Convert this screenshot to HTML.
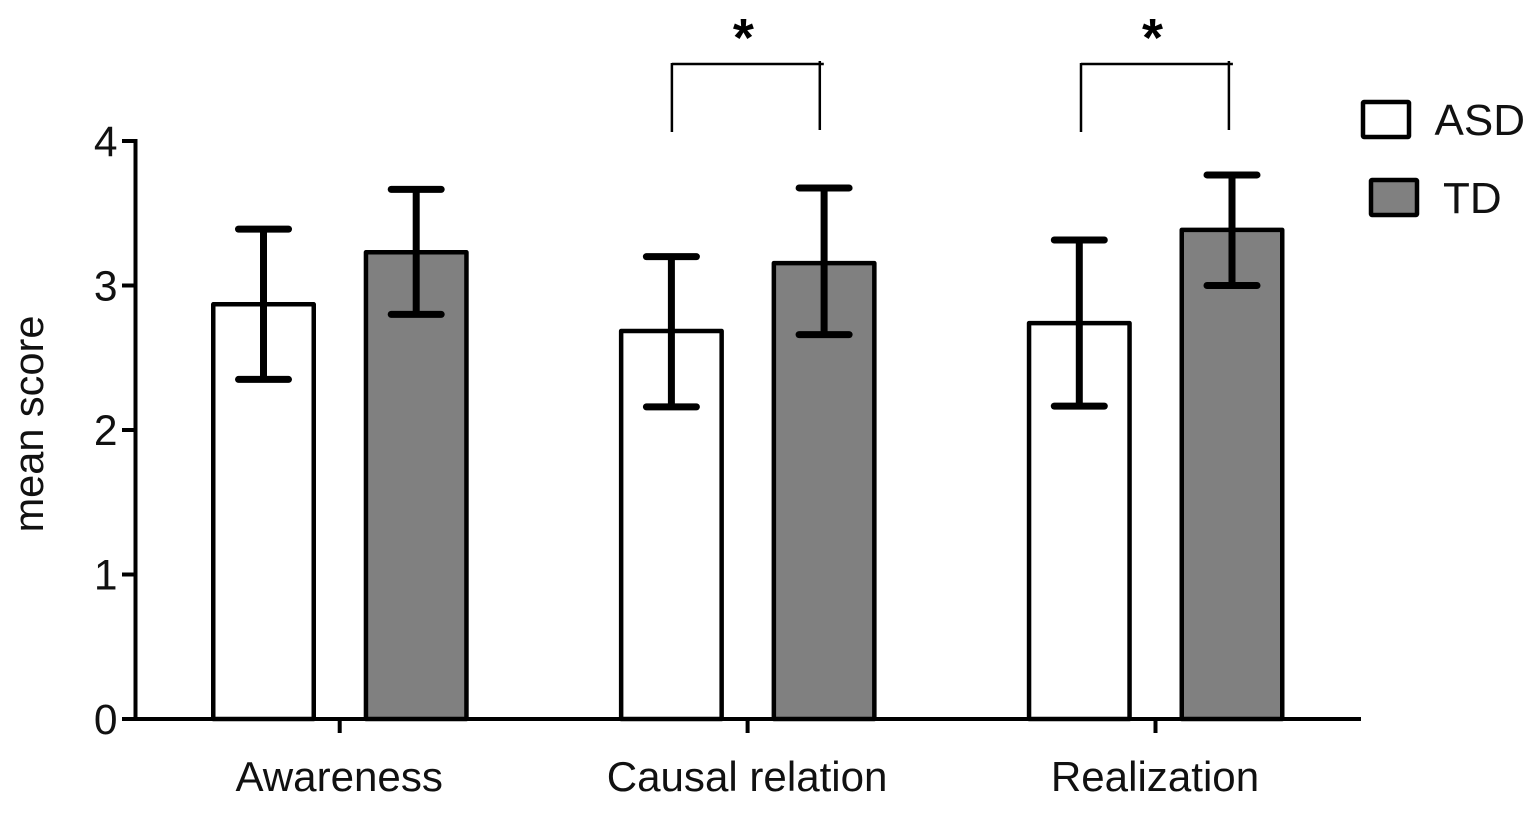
<!DOCTYPE html>
<html lang="en">
<head>
<meta charset="utf-8">
<title>Mean score by group</title>
<style>
html,body{margin:0;padding:0;background:#fff;}
svg{display:block;font-family:"Liberation Sans",Arial,sans-serif;fill:#111;}
</style>
</head>
<body>
<svg id="chart" width="1535" height="815" viewBox="0 0 1535 815" xmlns="http://www.w3.org/2000/svg"></svg>
<script>
const categories = ["Awareness", "Causal relation", "Realization"];
const seriesNames = ["ASD", "TD"];
const asdValues = [2.87, 2.685, 2.74];
const tdValues = [3.23, 3.155, 3.385];
const asdErrorHigh = [3.39, 3.20, 3.315];
const asdErrorLow = [2.35, 2.16, 2.165];
const tdErrorHigh = [3.665, 3.675, 3.765];
const tdErrorLow = [2.80, 2.66, 3.00];
const yTicks = [0, 1, 2, 3, 4];
const significantCategories = ["Causal relation", "Realization"];

const svg = document.getElementById('chart');
const NS = 'http://www.w3.org/2000/svg';
function yScale(v){ return 719 - v * 144.5; }
function xCenter(i){ return 339.7 + i * 407.9; }
function xBar(i, s){ return xCenter(i) + (s === 0 ? -76.2 : 76.5); }
function add(tag, attrs, parent){
  const el = document.createElementNS(NS, tag);
  for (const k in attrs) el.setAttribute(k, attrs[k]);
  (parent || svg).appendChild(el);
  return el;
}
function stroke(w, cap){ return {stroke:'#000','stroke-width':w,'stroke-linecap':cap || 'butt',fill:'none'}; }

const series = [
  {name:seriesNames[0], values:asdValues, hi:asdErrorHigh, lo:asdErrorLow, fill:'#ffffff'},
  {name:seriesNames[1], values:tdValues, hi:tdErrorHigh, lo:tdErrorLow, fill:'#808080'}
];
const barWidth = 100.5;

series.forEach((s, si) => {
  s.values.forEach((v, i) => {
    const cx = xBar(i, si);
    const bar = add('rect', {x:cx - barWidth / 2, y:yScale(v), width:barWidth, height:yScale(0) - yScale(v), fill:s.fill, stroke:'#000', 'stroke-width':4.5, 'stroke-linejoin':'round'});
    
    
    const err = add('g', stroke(7, 'butt'));
    
    
    add('line', {x1:cx, x2:cx, y1:yScale(s.hi[i]), y2:yScale(s.lo[i])}, err);
    add('line', {x1:cx - 25, x2:cx + 25, y1:yScale(s.hi[i]), y2:yScale(s.hi[i]), 'stroke-linecap':'round'}, err);
    add('line', {x1:cx - 25, x2:cx + 25, y1:yScale(s.lo[i]), y2:yScale(s.lo[i]), 'stroke-linecap':'round'}, err);
  });
});

const yAxis = add('g', stroke(4));


add('line', {x1:135.5, x2:135.5, y1:yScale(4) - 2, y2:yScale(0) + 2}, yAxis);
yTicks.forEach(t => {
  const tick = add('line', {x1:122, x2:135.5, y1:yScale(t), y2:yScale(t)}, yAxis);
  
  
  const label = add('text', {x:117.5, y:yScale(t) + 15, 'text-anchor':'end', 'font-size':42.5});
  label.textContent = t;
  
  
});

const xAxis = add('g', stroke(4));


add('line', {x1:122, x2:1361, y1:yScale(0), y2:yScale(0)}, xAxis);
categories.forEach((c, i) => {
  const tick = add('line', {x1:xCenter(i), x2:xCenter(i), y1:yScale(0), y2:733}, xAxis);
  
  
  const label = add('text', {x:xCenter(i) - 0.5, y:791, 'text-anchor':'middle', 'font-size':42.1});
  label.textContent = c;
  
  
});

const yTitle = add('text', {transform:'translate(43 424) rotate(-90)', 'text-anchor':'middle', 'font-size':41.5});
yTitle.textContent = 'mean score';



significantCategories.forEach(c => {
  const i = categories.indexOf(c);
  const nudge = i === 2 ? 1.2 : 0;
  const left = xBar(i, 0) + 0.5 + nudge;
  const right = xBar(i, 1) - 4.3 + nudge;
  const g = add('g', stroke(2.5));
  
  
  add('line', {x1:left, x2:left, y1:63, y2:132}, g);
  add('line', {x1:left, x2:right + 4, y1:64, y2:64}, g);
  add('line', {x1:right, x2:right, y1:61, y2:130}, g);
  const star = add('text', {x:(left + right) / 2 - 2.5, y:56, 'text-anchor':'middle', 'font-size':54, 'font-weight':'bold', fill:'#000'});
  star.textContent = '*';
  
  
});

const legendLayout = [
  {x:1363, y:102, tx:1434.5, ty:135},
  {x:1371, y:180, tx:1443, ty:213}
];
series.forEach((s, si) => {
  const p = legendLayout[si];
  const g = add('g', {});
  
  
  const swatch = add('rect', {x:p.x, y:p.y, width:46, height:35, fill:s.fill, stroke:'#000', 'stroke-width':4.5, rx:1}, g);
  
  
  const label = add('text', {x:p.tx, y:p.ty, 'font-size':44}, g);
  label.textContent = s.name;
  
  
});
</script>
</body>
</html>
